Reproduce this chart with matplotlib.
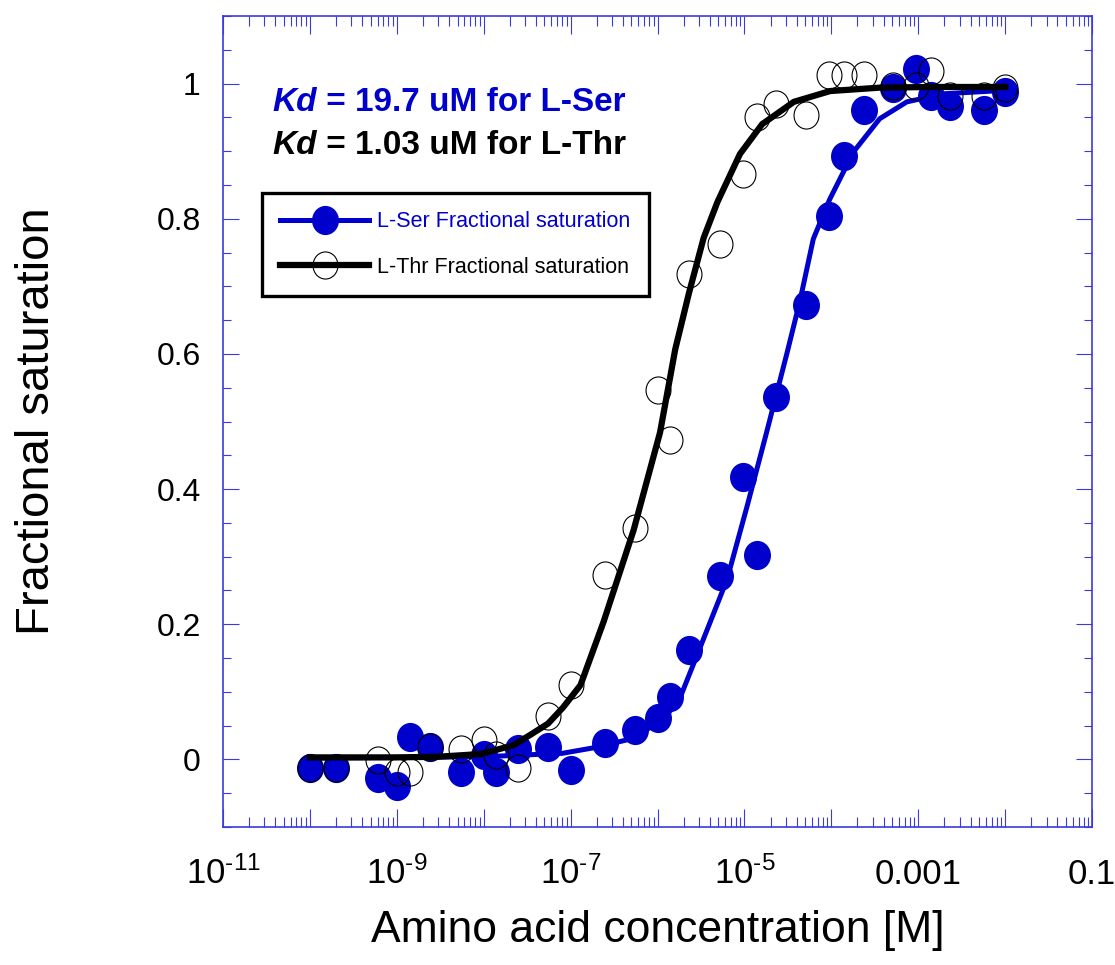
import matplotlib
matplotlib.use("Agg")
import matplotlib.pyplot as plt
from matplotlib.path import Path
from matplotlib.transforms import Affine2D
from matplotlib.lines import Line2D
from matplotlib.ticker import LogLocator, FixedLocator, NullFormatter, MultipleLocator

plt.rcParams['font.family'] = ['Liberation Sans', 'DejaVu Sans']
plt.rcParams['mathtext.fontset'] = 'custom'
plt.rcParams['mathtext.rm'] = 'Liberation Sans'
plt.rcParams['mathtext.it'] = 'Liberation Sans:italic'
plt.rcParams['mathtext.bf'] = 'Liberation Sans:bold'

# concentrations [M] shared by both titrations
conc = [1e-10, 2e-10, 6e-10, 1e-9, 1.4e-9, 2.4e-9, 5.5e-9, 1e-8, 1.4e-8, 2.5e-8,
        5.5e-8, 1e-7, 2.5e-7, 5.5e-7, 1e-6, 1.4e-6, 2.3e-6, 5.3e-6, 9.7e-6, 1.4e-5,
        2.3e-5, 5.1e-5, 9.5e-5, 1.4e-4, 2.4e-4, 5.1e-4, 9.5e-4, 1.4e-3, 2.3e-3, 5.7e-3, 1e-2]

ser_sat = [-0.013, -0.012, -0.027, -0.040, 0.033, 0.018, -0.019, 0.006, -0.018, 0.016,
           0.018, -0.016, 0.025, 0.043, 0.061, 0.092, 0.162, 0.272, 0.418, 0.303,
           0.537, 0.672, 0.804, 0.893, 0.961, 0.993, 1.021, 0.982, 0.967, 0.961, 0.987]

thr_sat = [-0.012, -0.012, -0.001, -0.019, -0.019, 0.018, 0.015, 0.028, 0.006, -0.013,
           0.064, 0.110, 0.273, 0.343, 0.546, 0.472, 0.718, 0.763, 0.866, 0.951,
           0.970, 0.953, 1.012, 1.012, 1.012, 0.997, 0.997, 1.018, 0.982, 0.982, 0.993]

# fitted curves
ser_fit_x = [1e-10, 1e-8, 8e-8, 2e-7, 4.8e-7, 1.15e-6, 1.8e-6, 3.1e-6, 6.3e-6, 1.07e-5,
             1.8e-5, 3.1e-5, 4.4e-5, 6.2e-5, 9.6e-5, 1.8e-4, 3.6e-4, 7.4e-4, 2e-3, 1e-2]
ser_fit_y = [0.002, 0.004, 0.009, 0.018, 0.030, 0.058, 0.090, 0.166, 0.266, 0.374,
             0.484, 0.602, 0.681, 0.770, 0.829, 0.899, 0.948, 0.973, 0.985, 0.990]

thr_fit_x = [1e-10, 1e-9, 3e-9, 9.3e-9, 2.2e-8, 3.4e-8, 5.5e-8, 8.2e-8, 1.3e-7, 2.4e-7,
             5.3e-7, 1.07e-6, 1.6e-6, 2.3e-6, 3.4e-6, 4.9e-6, 8.9e-6, 1.6e-5, 3.7e-5,
             9.7e-5, 3.6e-4, 1.4e-3, 1e-2]
thr_fit_y = [0.003, 0.003, 0.004, 0.008, 0.021, 0.036, 0.053, 0.077, 0.110, 0.204,
             0.339, 0.484, 0.607, 0.690, 0.772, 0.825, 0.896, 0.940, 0.973,
             0.989, 0.994, 0.995, 0.995]

xtick_vals = [1e-11, 1e-10, 1e-9, 1e-8, 1e-7, 1e-6, 1e-5, 1e-4, 1e-3, 1e-2, 1e-1]
xtick_labels = [r"$\mathregular{10^{\text{-}11}}$", "", r"$\mathregular{10^{\text{-}9}}$", "",
                r"$\mathregular{10^{\text{-}7}}$", "", r"$\mathregular{10^{\text{-}5}}$", "",
                "0.001", "", "0.1"]
ytick_vals = [0, 0.2, 0.4, 0.6, 0.8, 1.0]
ytick_labels = ["0", "0.2", "0.4", "0.6", "0.8", "1"]

blue = "#0000cc"
frame = "#3a3ade"

# slightly tall ellipse like the original symbols
ell = Path.unit_circle().transformed(Affine2D().scale(0.92, 1.0))

fig = plt.figure(figsize=(11.15, 9.65), dpi=100)
ax = fig.add_axes([0.2, 0.143, 0.7794, 0.8404])

ax.plot(ser_fit_x, ser_fit_y, color=blue, lw=3.6, zorder=2)
ax.plot(conc, ser_sat, ls="none", marker=ell, ms=20, mfc=blue, mec=blue, zorder=3)
ax.plot(thr_fit_x, thr_fit_y, color="black", lw=4.5, zorder=4)
ax.plot(conc, thr_sat, ls="none", marker=ell, ms=19.5, mfc="none", mec="black", mew=0.8, zorder=5)

ax.set_xscale("log")
ax.set_xlim(1e-11, 0.1)
ax.set_ylim(-0.1, 1.1)

ax.xaxis.set_major_locator(FixedLocator(xtick_vals))
ax.set_xticklabels(xtick_labels)
ax.xaxis.set_minor_locator(LogLocator(base=10, subs=range(2, 10), numticks=50))
ax.xaxis.set_minor_formatter(NullFormatter())
ax.set_yticks(ytick_vals)
ax.set_yticklabels(ytick_labels)
ax.yaxis.set_minor_locator(MultipleLocator(0.05))

ax.tick_params(axis="both", which="both", direction="in", top=True, right=True,
               color=frame, width=0.8, labelsize=23)
ax.tick_params(axis="x", which="major", length=13, pad=41, labelsize=25)
ax.tick_params(axis="x", which="minor", length=7)
ax.tick_params(axis="y", which="major", length=11.5, pad=16)
ax.tick_params(axis="y", which="minor", length=6)
for lbl in ax.get_xticklabels():
    lbl.set_va("baseline")

for sp in ax.spines.values():
    sp.set_color(frame)
    sp.set_linewidth(1.2)

ax.set_xlabel("Amino acid concentration [M]", fontsize=32)
ax.xaxis.set_label_coords(0.5, -0.102)
ax.set_ylabel("Fractional saturation", fontsize=34)
ax.yaxis.set_label_coords(-0.189, 0.5)

# Kd annotations
t1 = ax.text(0.057, 0.893, "Kd", transform=ax.transAxes, fontsize=24, fontweight="bold",
             fontstyle="italic", color=blue, va="center")
ax.annotate(" = 19.7 uM for L-Ser", xy=(1, 0), xycoords=t1, fontsize=24, fontweight="bold",
            color=blue, va="bottom")
t2 = ax.text(0.057, 0.840, "Kd", transform=ax.transAxes, fontsize=24, fontweight="bold",
             fontstyle="italic", color="black", va="center")
ax.annotate(" = 1.03 uM for L-Thr", xy=(1, 0), xycoords=t2, fontsize=24, fontweight="bold",
            color="black", va="bottom")

handles = [
    Line2D([], [], color=blue, lw=3.6, marker=ell, ms=20, mfc=blue, mec=blue),
    Line2D([], [], color="black", lw=4.5, marker=ell, ms=19.5, mfc="none", mec="black", mew=0.8),
]
leg = ax.legend(handles, ["L-Ser Fractional saturation", "L-Thr Fractional saturation"],
                loc="upper left", bbox_to_anchor=(0.045, 0.782), borderaxespad=0,
                fontsize=15.5, handlelength=4.1, handletextpad=0.4, numpoints=1,
                labelspacing=1.15, fancybox=False, framealpha=1, edgecolor="black",
                borderpad=0.85)
leg.get_frame().set_linewidth(2.4)
leg.get_texts()[0].set_color(blue)

fig.savefig("out.png", dpi=100)
